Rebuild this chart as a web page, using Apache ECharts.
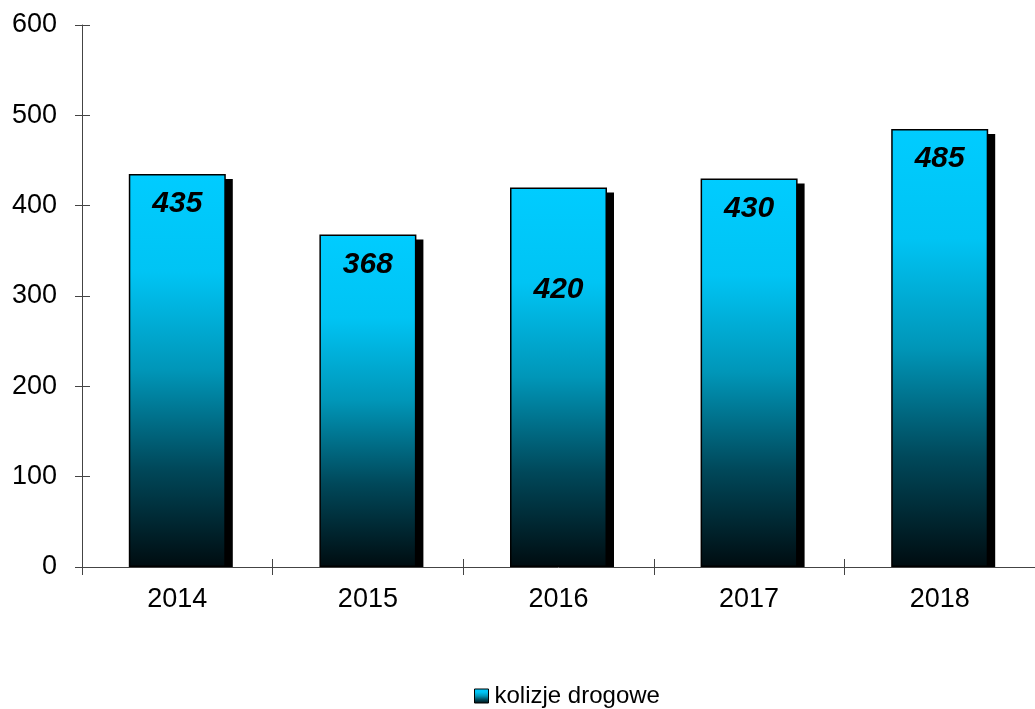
<!DOCTYPE html>
<html>
<head>
<meta charset="utf-8">
<script src="https://cdn.jsdelivr.net/npm/echarts@6/dist/echarts.min.js"></script>
<style>
  html, body { margin: 0; padding: 0; background: #fff; }
  #chart { width: 1035px; height: 709px; }
</style>
</head>
<body>
<div id="chart"></div>
<script>
// dane
var years = ["2014", "2015", "2016", "2017", "2018"]
var kolizje = [435, 368, 420, 430, 485]
var yTicks = [0, 100, 200, 300, 400, 500, 600]
var seriesName = "kolizje drogowe"

var chart = echarts.init(document.getElementById("chart"))

var barFill = new echarts.graphic.LinearGradient(0, 0, 0, 1, [
  { offset: 0, color: "#00ccff" },
  { offset: 0.25, color: "#00c4f4" },
  { offset: 0.5, color: "#0096b8" },
  { offset: 0.75, color: "#00485a" },
  { offset: 1, color: "#000c10" },
])

var BAR_W = 97

// etykieta 2016 jest niżej w oryginale
var barData = kolizje.map(function (v, i) {
  var item = { value: v }
  if (years[i] === "2016") item.label = { distance: 87 }
  return item
})

var axisColor = "#444"
var font = "Liberation Sans, Arial, sans-serif"

chart.setOption({
  animation: false,
  grid: { left: 82, top: 25, width: 958, height: 542 },
  legend: {
    data: [seriesName],
    top: 679,
    left: 469,
    itemWidth: 14,
    itemHeight: 14,
    itemGap: 4,
    icon: "rect",
    textStyle: { fontFamily: font, fontSize: 24, color: "#000", padding: [0, 0, 0, 1] },
    itemStyle: { borderColor: "#000", borderWidth: 1 },
  },
  xAxis: [
    {
      type: "category",
      data: years,
      axisLine: { lineStyle: { color: axisColor, width: 1 } },
      axisTick: { show: true, length: 8, lineStyle: { color: axisColor } },
      axisLabel: { fontFamily: font, fontSize: 27, color: "#000", margin: 19 },
    },
    {
      // ticks po wewnętrznej stronie osi
      type: "category",
      position: "bottom",
      data: years,
      axisLine: { show: false },
      axisTick: { show: true, inside: true, length: 8, lineStyle: { color: axisColor } },
      axisLabel: { show: false },
    },
  ],
  yAxis: [
    {
      type: "value",
      min: yTicks[0],
      max: yTicks[yTicks.length - 1],
      interval: 100,
      splitLine: { show: false },
      axisLine: { show: true, lineStyle: { color: axisColor, width: 1 } },
      axisTick: { show: true, length: 7, lineStyle: { color: axisColor } },
      axisLabel: { fontFamily: font, fontSize: 27, color: "#000", margin: 25 },
    },
    {
      type: "value",
      position: "left",
      min: yTicks[0],
      max: yTicks[yTicks.length - 1],
      interval: 100,
      splitLine: { show: false },
      axisLine: { show: false },
      axisTick: { show: true, inside: true, length: 8, lineStyle: { color: axisColor } },
      axisLabel: { show: false },
    },
  ],
  series: [
    {
      // cień słupków
      name: "cien",
      type: "custom",
      silent: true,
      z: 1,
      data: kolizje.map(function (v, i) { return [i, v] }),
      renderItem: function (params, api) {
        var top = api.coord([api.value(0), api.value(1)])
        var base = api.coord([api.value(0), 0])
        return {
          type: "rect",
          shape: {
            x: top[0] - BAR_W / 2 + 7,
            y: top[1] + 5,
            width: BAR_W,
            height: base[1] - top[1] - 5,
          },
          style: { fill: "#000" },
        }
      },
    },
    {
      name: seriesName,
      type: "bar",
      z: 2,
      barWidth: BAR_W,
      data: barData,
      itemStyle: {
        color: barFill,
        borderColor: "#000",
        borderWidth: 1.5,
      },
      label: {
        show: true,
        position: "insideTop",
        distance: 15,
        fontFamily: font,
        fontSize: 30,
        fontWeight: "bold",
        fontStyle: "italic",
        color: "#000",
      },
    },
  ],
})
</script>
</body>
</html>
